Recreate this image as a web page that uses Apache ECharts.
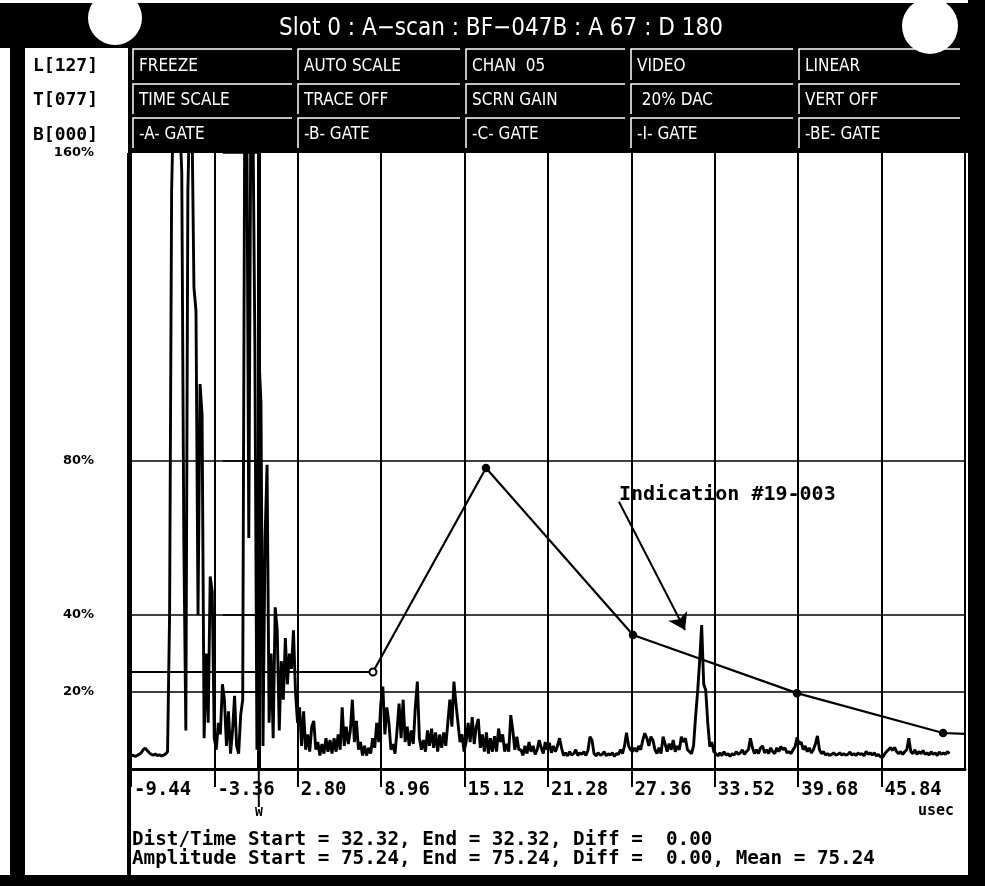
<!DOCTYPE html>
<html><head><meta charset="utf-8">
<script src="https://cdn.jsdelivr.net/npm/echarts@6/dist/echarts.min.js"></script>
<style>html,body{margin:0;padding:0;background:#fff}#c{width:985px;height:886px}</style>
</head><body><div id="c"></div>
<script>
// ---------------- data ----------------
const xStart = -9.44;          // usec, first sample
const xStep = 0.15;            // usec between samples
const amplitude = [
 3.4,3.6,3.3,3.5,3.8,4.2,5.0,5.4,4.8,4.2,
 3.8,3.6,3.9,3.5,3.7,3.4,3.6,3.9,4.5,40,
 150,175,175,172,168,155,60,10,150,175,
 170,125,119,40,100,92,8,30,12,50,
 46,8,5,12,9,22,18,6,15,4,
 10,19,6,4,14,18,170,175,60,170,
 172,110,5,107,95,6,60,79,12,30,
 8,42,36,10,28,18,34,22,30,26,
 36,20,12,16,6,15,5,9,4.5,11,
 12.5,5,7,3.5,6.5,4,8,4.5,7.5,4,
 8,4.5,9,5,16,6,11,6.5,10,18,
 7,12.5,5,7,3.5,6,3.5,5.5,4,8,
 5.5,12,7,17,21.4,9,16,12,5,6.5,
 4,10,17,8,18,7,11,6,10,6.5,
 16,22.7,8,5,7.5,4.5,10,6,10.5,5.5,
 9.5,4.5,9,5.5,9.5,6,12,18,11,22.7,
 17,12,7,9,4.5,7,12,7,13.5,6.5,
 11,13,5.5,9,4.5,9.5,4,8,4.5,8.5,
 4.5,10.5,7,9,4.5,6.5,4.5,14,10,5,
 8.4,5,5,3.5,6,4,7,4.5,6,3.8,
 5,7.5,5.5,4,7,5,6.8,4.2,6,4.5,
 6,8,5.5,3.5,4.2,3.4,4.5,3.6,4,5,
 3.5,4.2,3.8,4.5,3.5,4.8,8.4,7.5,4,3.4,
 4.2,3.6,3.8,4.5,3.4,4,3.6,4.2,3.3,4,
 3.8,5,4,6,9.4,6,5,4.5,5.5,4.5,
 6,5,7.5,9.3,8,6,8.4,7.5,5,4,
 5.5,4,8.4,6.5,4.5,6.6,5,7.5,4.5,6,
 5,8.4,7,8,5,4.5,4,6,13.6,20,
 28,37.4,22,20.5,12,5.8,7,4.5,4,3.4,
 4.2,3.5,4.5,3.6,4,3.3,4,3.6,4.5,3.8,
 4.2,5,3.8,4.5,5,8,5.5,4,5,4,
 5.5,6,4.2,5,4,5.5,4.5,4,5.5,4.5,
 5.8,5,5.5,4.2,4.5,4,5,5.8,8.2,6.5,
 7,5,6,4.5,5.5,4.2,5,6.5,8.6,5,
 4,4.5,3.6,4,3.5,3.8,4.2,3.6,3.8,4.2,
 3.6,4,3.6,3.8,4.4,3.6,4,3.5,4.2,3.8,
 4,3.4,4.6,3.8,4.2,3.6,4.2,3.4,3.8,3.2,
 3,3.8,4.5,5,5.6,4.8,5.6,4.5,4,4.5,
 3.8,4.5,5,8,4.5,4,5,3.8,4.5,4,
 4.8,3.8,4.2,3.6,4.5,3.8,4.2,3.5,4.4,3.8,
 4.2,3.8,4.5,4
];
const dacTime = [-9.44, 8.43, 16.78, 27.64, 39.75, 50.54, 52.16];
const dacAmp  = [25.2, 25.2, 78.2, 34.8, 19.7, 9.35, 9.1];
const tickLabels = ['-9.44','-3.36','2.80','8.96','15.12','21.28','27.36','33.52','39.68','45.84'];
const yLabelValues = [20, 40, 80, 160];
const gridLevels = [20, 40, 80];
const titleText = 'Slot 0 : A\u2212scan : BF\u2212047B : A 67 : D 180';
const sideLabels = ['L[127]', 'T[077]', 'B[000]'];
const menuRows = [
  ['FREEZE', 'AUTO SCALE', 'CHAN  05', 'VIDEO', 'LINEAR'],
  ['TIME SCALE', 'TRACE OFF', 'SCRN GAIN', ' 20% DAC', 'VERT OFF'],
  ['-A- GATE', '-B- GATE', '-C- GATE', '-I- GATE', '-BE- GATE']
];
const infoLines = [
  'Dist/Time Start = 32.32, End = 32.32, Diff =  0.00',
  'Amplitude Start = 75.24, End = 75.24, Diff =  0.00, Mean = 75.24'
];
const unitLabel = 'usec';
const indicationText = 'Indication #19-003';
const indicationAnchor = [26.6, 71.2];   // usec, %
const arrowFrom = [26.6, 69.4];
const arrowTo = [31.48, 36.1];
const cursorTime = 0.0;

// ---------------- chart ----------------
const MONO = "'DejaVu Sans Mono','Liberation Mono',monospace";
const NARROW = "'Liberation Sans Narrow','DejaVu Sans Condensed','DejaVu Sans',sans-serif";
const chart = echarts.init(document.getElementById('c'));

const traceData = amplitude.map((v, i) => [+(xStart + i * xStep).toFixed(3), v]);
const dacData = dacTime.map((t, i) => {
  const d = { value: [t, dacAmp[i]] };
  if (i === 0 || i === dacTime.length - 1) d.symbol = 'none';
  else if (i === 1) d.symbol = 'emptyCircle';
  else d.symbol = 'circle';
  return d;
});

const colX = [133, 298, 466, 631, 799, 966];
const rowY = [48, 83, 117, 151];
const staticGraphic = [];
staticGraphic.push({ id: 'topband', type: 'rect', shape: { x: 0, y: 3, width: 985, height: 45 }, style: { fill: '#000' }, z: 0 });
staticGraphic.push({ id: 'menu', type: 'rect', shape: { x: 128, y: 45, width: 845, height: 108 }, style: { fill: '#000' }, z: 0 });
staticGraphic.push({ id: 'leftbar', type: 'rect', shape: { x: 10, y: 45, width: 15, height: 841 }, style: { fill: '#000' }, z: 0 });
staticGraphic.push({ id: 'rightbar', type: 'rect', shape: { x: 968, y: 0, width: 17, height: 886 }, style: { fill: '#000' }, z: 0 });
staticGraphic.push({ id: 'bottombar', type: 'rect', shape: { x: 0, y: 875, width: 985, height: 11 }, style: { fill: '#000' }, z: 0 });
staticGraphic.push({ id: 'blob1', type: 'circle', shape: { cx: 115, cy: 18, r: 27 }, style: { fill: '#fff' }, z: 1 });
staticGraphic.push({ id: 'blob2', type: 'circle', shape: { cx: 930, cy: 26, r: 28 }, style: { fill: '#fff' }, z: 1 });
staticGraphic.push({ id: 'leftedge', type: 'line', shape: { x1: 129, y1: 153, x2: 129, y2: 875 }, style: { stroke: '#000', lineWidth: 4 }, z: 5 });
staticGraphic.push({ id: 'title', type: 'text', z: 2, style: { text: titleText, x: 501, y: 29, fill: '#fff', font: '24px ' + NARROW, textAlign: 'center', textVerticalAlign: 'middle' } });
sideLabels.forEach((s, k) => {
  staticGraphic.push({ id: 'side' + k, type: 'text', z: 2, style: { text: s, x: 33, y: 66 + k * 34.5, fill: '#000', font: 'bold 18px ' + MONO, textAlign: 'left', textVerticalAlign: 'middle' } });
});
menuRows.forEach((row, r) => {
  row.forEach((label, c) => {
    const x = colX[c], y = rowY[r], w = colX[c + 1] - colX[c], h = rowY[r + 1] - rowY[r];
    staticGraphic.push({ id: 'mb' + r + c, type: 'polyline', z: 2, shape: { points: [[x, y + h - 3], [x, y + 1], [x + w - 6, y + 1]] }, style: { stroke: '#fff', lineWidth: 1.5, fill: null } });
    staticGraphic.push({ id: 'mt' + r + c, type: 'text', z: 2, style: { text: label, x: x + 6, y: y + h / 2 + 1, fill: '#fff', font: '17px ' + NARROW, textAlign: 'left', textVerticalAlign: 'middle' } });
  });
});
infoLines.forEach((s, k) => {
  staticGraphic.push({ id: 'info' + k, type: 'text', z: 2, style: { text: s, x: 132, y: 840 + k * 19, fill: '#000', font: 'bold 19.3px ' + MONO, textAlign: 'left', textVerticalAlign: 'middle' } });
});
staticGraphic.push({ id: 'unit', type: 'text', z: 2, style: { text: unitLabel, x: 918, y: 811, fill: '#000', font: 'bold 15px ' + MONO, textAlign: 'left', textVerticalAlign: 'middle' } });

const option = {
  backgroundColor: '#fff',
  animation: false,
  grid: { left: 131, top: 153, width: 834, height: 616, containLabel: false },
  xAxis: {
    type: 'value', min: -9.44, max: 52.16, interval: 6.16,
    axisLine: { show: true, onZero: false, lineStyle: { color: '#000', width: 3 } },
    axisTick: { show: true, length: 18, lineStyle: { color: '#000', width: 2 } },
    axisLabel: {
      formatter: (v, i) => tickLabels[i] || '',
      align: 'left', margin: 12, padding: [0, 0, 0, 3],
      color: '#000', fontFamily: MONO, fontWeight: 'bold', fontSize: 19,
      showMinLabel: true, showMaxLabel: false, hideOverlap: false
    },
    splitLine: { show: true, lineStyle: { color: '#000', width: 2 } }
  },
  yAxis: {
    type: 'value', min: 0, max: 160, interval: 20,
    axisLine: { show: true, lineStyle: { color: '#000', width: 4 } },
    axisTick: { show: true, customValues: yLabelValues, length: 36, lineStyle: { color: '#000', width: 1.5 } },
    axisLabel: { customValues: yLabelValues, formatter: '{value}%', margin: 37, color: '#000', fontFamily: "'DejaVu Sans',sans-serif", fontWeight: 'bold', fontSize: 13 },
    splitLine: { show: false }
  },
  series: [
    {
      type: 'line', name: 'A-scan', data: traceData, symbol: 'none', clip: true,
      lineStyle: { color: '#000', width: 2.9 }, z: 3,
      markLine: {
        silent: true, symbol: ['none', 'none'], animation: false,
        lineStyle: { color: '#000', width: 1.5, type: 'solid' }, label: { show: false },
        data: gridLevels.map(v => ({ yAxis: v }))
      }
    },
    {
      type: 'line', name: 'DAC', data: dacData, symbolSize: 7, clip: true,
      lineStyle: { color: '#000', width: 2.2 }, itemStyle: { color: '#000', borderColor: '#000', borderWidth: 1.5 }, z: 4,
      markLine: {
        silent: true, symbol: ['none', 'arrow'], symbolSize: 16, animation: false,
        lineStyle: { color: '#000', width: 2, type: 'solid' }, itemStyle: { color: '#000' }, label: { show: false },
        data: [[{ coord: arrowFrom }, { coord: arrowTo }]]
      }
    }
  ],
  graphic: staticGraphic
};
chart.setOption(option);

// library-derived positions for annotation and cursor
const pText = chart.convertToPixel({ gridIndex: 0 }, indicationAnchor);
const pCur = chart.convertToPixel({ gridIndex: 0 }, [cursorTime, 0]);
chart.setOption({
  graphic: [
    { id: 'indic', type: 'text', z: 6, style: { text: indicationText, x: pText[0], y: pText[1], fill: '#000', font: 'bold 20px ' + MONO, textAlign: 'left', textVerticalAlign: 'middle' } },
    { id: 'cursorLine', type: 'line', z: 6, shape: { x1: pCur[0], y1: pCur[1] + 2, x2: pCur[0], y2: pCur[1] + 38 }, style: { stroke: '#000', lineWidth: 2 } },
    { id: 'cursorW', type: 'text', z: 6, style: { text: 'W', x: pCur[0], y: pCur[1] + 44, fill: '#000', font: 'bold 13px ' + MONO, textAlign: 'center', textVerticalAlign: 'middle' } }
  ]
});
</script>
</body></html>
